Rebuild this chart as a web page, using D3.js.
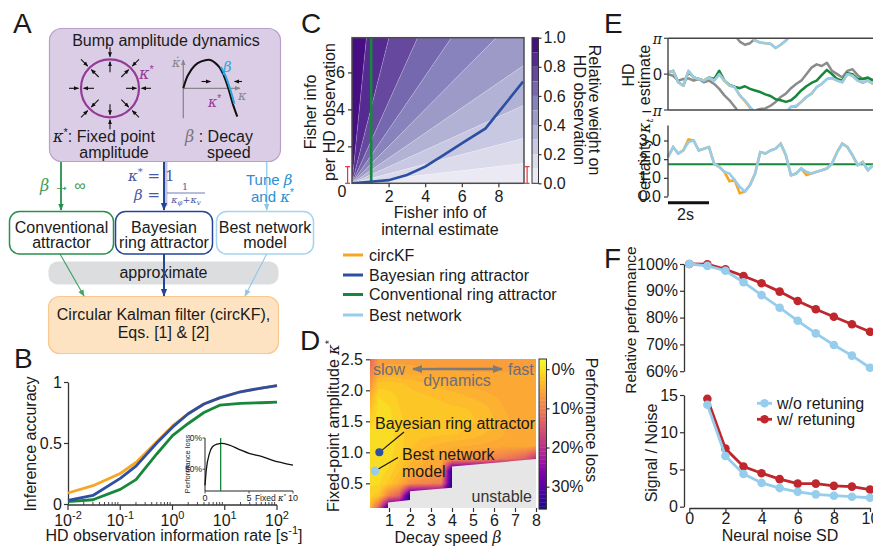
<!DOCTYPE html>
<html>
<head>
<meta charset="utf-8">
<script src="https://cdn.jsdelivr.net/npm/d3@7"></script>
<style>
  body { margin: 0; background: #fff; }
  svg { display: block; font-family: "Liberation Sans", Arial, Helvetica, sans-serif; font-size: 16px; fill: #1a1a1a; }
  .m { font-family: "DejaVu Serif", "Liberation Serif", serif; font-style: italic; }
  .sr { font-family: "DejaVu Serif", "Liberation Serif", serif; }
</style>
</head>
<body>
<svg id="fig" width="873" height="546"></svg>
<script>
// ---------------- DATA ----------------
// B: inference accuracy vs HD observation information rate
const rates     = [0.01, 0.03, 0.1, 0.2, 0.5, 1, 2, 4, 8, 20, 50, 100];
const accCircKF = [0.09, 0.15, 0.25, 0.34, 0.51, 0.64, 0.74, 0.82, 0.87, 0.92, 0.95, 0.97];
const accBayes  = [0.03, 0.07, 0.21, 0.31, 0.50, 0.63, 0.74, 0.82, 0.87, 0.92, 0.95, 0.97];
const accConv   = [0.02, 0.035, 0.12, 0.20, 0.41, 0.56, 0.66, 0.75, 0.81, 0.825, 0.83, 0.835];
// B inset: performance loss vs fixed kappa*
const fixedKappa = [0, 0.15, 0.5, 0.85, 1.4, 1.9, 2.7, 4, 5, 6.5, 7.6, 10];
const lossFixed  = [76, 51, 25, 14, 9.7, 8.6, 11, 19, 24.7, 30, 35.5, 43.5];
const convKappaStar = 1.78;

// C: relative weight on HD observation
const weightTicks = [0, 0.2, 0.4, 0.6, 0.8, 1.0];
const bandSlopes  = [Infinity, 10, 3.9, 2.2, 1.45, 1.0, 0.68, 0.45, 0.26, 0.115, 0];
const bandWeights = [0.95, 0.85, 0.75, 0.65, 0.55, 0.45, 0.35, 0.25, 0.15, 0.05];
const fisherInternal = [0, 1, 2, 3, 4, 5, 6, 7.3, 8.1, 9.35];
const fisherObsBayes = [0, 0.08, 0.17, 0.45, 0.9, 1.53, 2.16, 2.97, 3.96, 5.5];
const convFisherInternal = 1.05;
const errBarX = [-0.24, 9.57];
const errBarRange = [0, 0.9];

// legend
const legendNames  = ["circKF", "Bayesian ring attractor", "Conventional ring attractor", "Best network"];
const legendColors = ["#f6a623", "#2c4fa3", "#17873b", "#96cdec"];

// D: performance loss (%) over decay speed beta (columns) and fixed point kappa* (rows)
const dBeta  = [0.1, 0.5, 1, 1.5, 2, 2.5, 3, 3.5, 4, 4.5, 5, 5.5, 6, 6.5, 7, 7.5, 8];
const dKappa = [2.5, 2.3, 2.1, 1.9, 1.7, 1.5, 1.3, 1.1, 0.9, 0.7, 0.5, 0.3, 0.1];
const dLoss = [
  [13, 7, 6.5, 6.5, 6.5, 6.5, 6.5, 6.5, 6.5, 6.5, 6.5, 6.5, 6.5, 6.5, 6.5, 6.5, 6.5],
  [10, 5.5, 5, 5.2, 5.4, 5.6, 5.7, 5.8, 5.9, 6, 6, 6, 6, 6, 6, 6, 6],
  [7.5, 2.6, 2.5, 2.8, 3.2, 3.6, 4.0, 4.4, 4.8, 5.1, 5.3, 5.5, 5.6, 5.6, 5.7, 5.7, 5.7],
  [5, 1.0, 1.5, 2.2, 2.6, 2.8, 3.0, 3.2, 3.5, 3.8, 4.2, 4.6, 5.0, 5.3, 5.5, 5.6, 5.6],
  [3, 0.6, 0.8, 2.0, 2.4, 2.5, 2.6, 2.7, 2.8, 2.9, 3.1, 3.6, 4.3, 5.0, 5.3, 5.5, 5.6],
  [1.5, 0.3, 0.6, 1.8, 2.3, 2.4, 2.5, 2.6, 2.6, 2.7, 2.9, 3.2, 3.9, 4.8, 5.2, 5.5, 5.6],
  [0.8, 0.1, 0.4, 1.6, 2.4, 2.6, 2.7, 2.8, 2.9, 3.1, 3.4, 3.9, 4.5, 5.0, 5.3, 5.5, 5.6],
  [0.6, 0.0, 0.4, 1.5, 2.8, 3.5, 4.0, 4.4, 4.7, 4.9, 5.1, 5.3, 5.4, 5.5, 5.6, 5.7, 5.8],
  [0.5, 0.1, 0.6, 2.0, 3.6, 4.6, 5.1, 5.4, 7, 7.5, 8, 8.5, 9.5, 10.5, 12, 14, 20],
  [0.6, 0.3, 1.2, 3.0, 4.6, 5.3, 5.8, 6.5, 36, 36, 36, 36, 36, 36, 36, 36, 36],
  [0.8, 0.8, 2.4, 4.6, 8, 9, 9.5, 10.5, 36, 36, 36, 36, 36, 36, 36, 36, 36],
  [1.5, 2.5, 10, 14, 36, 36, 36, 36, 36, 36, 36, 36, 36, 36, 36, 36, 36],
  [4, 14, 36, 36, 36, 36, 36, 36, 36, 36, 36, 36, 36, 36, 36, 36, 36]
];
const lossBands = d3.range(0, 37, 1);
const lossTicks = [0, 10, 20, 30];
const unstableBeta  = [0.95, 0.95, 2, 2, 4, 4, 8, 8];
const unstableKappa = [0.1, 0.19, 0.23, 0.37, 0.43, 0.77, 0.89, 0.1];
const bayesPoint = [0.54, 1.0];
const bestPoint  = [0.33, 0.7];

// E: example traces (time in s)
const tE = [0,0.25,0.5,0.75,1,1.25,1.5,1.75,2,2.25,2.5,2.75,3,3.25,3.5,3.75,4,4.25,4.5,4.75,5,
            5.25,5.5,5.75,6,6.25,6.5,6.75,7,7.25,7.5,7.75,8,8.25,8.5,8.75,9,9.25,9.5,9.75,10];
const hdTrue = [0,-0.14,-0.57,-0.43,-0.37,-0.57,-0.43,-0.71,-0.57,-0.86,-1.29,-1.86,-2.29,-2.86,-3.43,-3.71,-3.57,-3.17,-3.06,-3.0,-2.77,
                -2.43,-2.0,-1.71,-1.23,-0.86,-0.57,0,0.57,0.86,0.71,1.0,0.29,0,-0.29,0.29,0.43,-0.09,-0.43,-0.37,-0.49];
const hdConv = [0.14,0.29,-0.71,-1.0,0.2,-0.29,-0.43,-0.57,-0.29,-0.43,0.3,-0.57,-0.95,-1.1,-1.23,-1.06,-1.29,-1.43,-1.57,-1.77,-1.91,
                -2.2,-2.29,-2.43,-2.29,-1.91,-1.43,-1.06,-0.77,-0.57,-0.09,0.37,0,-0.43,-0.57,0.09,0,-0.43,-0.43,-0.29,-0.57];
const hdKF   = [0.14,0.29,-0.71,-1.0,0.29,-0.29,-0.43,-0.57,-0.29,-0.57,0,-0.57,-1.0,-1.14,-1.86,-2.36,-2.95,-3.34,-3.51,-3.57,-3.62,
                -3.99,-3.71,-3.34,-2.86,-2.85,-2.43,-2.0,-1.71,-1.14,-0.86,-0.43,-0.34,-0.57,-0.71,0,-0.14,-0.57,-0.76,-0.57,-0.86];
const hdBest = [0.14,0.29,-0.71,-1.0,0.29,-0.29,-0.43,-0.57,-0.29,-0.57,0,-0.57,-1.0,-1.14,-1.86,-2.29,-2.86,-3.34,-3.51,-3.57,-3.62,
                -3.99,-3.71,-3.34,-2.86,-2.77,-2.43,-2.0,-1.71,-1.14,-0.86,-0.43,-0.34,-0.57,-0.71,0,-0.14,-0.57,-0.71,-0.57,-0.86];
const certKF   = [2.12,2.65,2.3,2.47,3.05,3.0,2.47,2.56,2.65,1.76,1.59,1.32,0.82,0.88,0.18,0.26,0.61,1.23,2.38,2.3,2.47,
                  2.56,2.83,2.21,1.14,1.23,1.5,1.15,1.23,1.32,1.41,1.5,1.76,2.38,2.83,2.65,2.21,1.68,1.85,1.41,1.68];
const certBest = [2.12,2.65,2.3,2.47,2.92,3.0,2.47,2.56,2.65,1.76,1.59,1.32,1.23,0.88,0.52,0.26,0.61,1.23,2.38,2.3,2.47,
                  2.56,2.83,2.21,1.14,1.23,1.5,1.32,1.23,1.32,1.41,1.5,1.76,2.38,2.83,2.65,2.21,1.68,1.85,1.41,1.68];
const certConv = 1.73;

// F: performance and signal/noise vs neural noise
const noiseSD      = [0, 1, 2, 3, 4, 5, 6, 7, 8, 9, 10];
const perfNoRetune = [100, 99.3, 97.5, 93.2, 88.4, 83.7, 78.8, 74.1, 69.8, 65.8, 61.3];
const perfRetune   = [100, 99.9, 98.0, 95.5, 92.8, 89.7, 86.2, 83.1, 80.3, 77.5, 74.7];
const snrSD        = [1, 2, 3, 4, 5, 6, 7, 8, 9, 10];
const snrNoRetune  = [13.7, 6.8, 4.4, 3.2, 2.5, 2.0, 1.66, 1.48, 1.34, 1.2];
const snrRetune    = [14.5, 7.8, 5.4, 4.5, 3.7, 3.1, 3.1, 2.8, 2.7, 2.3];

// A: sketch of bump amplitude dynamics (kappa, d kappa / dt)
const ampKappa = [0, 0.1, 0.25, 0.4, 0.6, 0.8, 0.9, 1.0, 1.1, 1.2];
const ampRate  = [0, 0.45, 0.8, 0.95, 1.0, 0.75, 0.45, 0, -0.55, -1.0];

const COL = { kf: "#f6a623", bayes: "#2c4fa3", conv: "#17873b", best: "#96cdec", gray: "#8c8c8c", red: "#c0272d", purple: "#943a97" };

// ---------------- HELPERS ----------------
const svg = d3.select("#fig");
const defs = svg.append("defs");
const SANS = '"Liberation Sans", Arial, Helvetica, sans-serif';

function addMarker(id, color, size) {
  defs.append("marker").attr("id", id)
    .attr("viewBox", "0 0 10 10").attr("refX", 9).attr("refY", 5)
    .attr("markerWidth", size).attr("markerHeight", size)
    .attr("markerUnits", "userSpaceOnUse").attr("orient", "auto-start-reverse")
    .append("path").attr("d", "M0,1L10,5L0,9Z").attr("fill", color);
}
addMarker("arBlack", "#111", 5);
addMarker("arGray", "#888", 6);
addMarker("arGreen", "#27904c", 7);
addMarker("arBlue", "#22449b", 8);
addMarker("arLight", "#8cc7ea", 7);
addMarker("arDyn", "#7b7b7b", 10);

function txt(g, x, y, s, o = {}) {
  const t = g.append("text").attr("x", x).attr("y", y)
    .attr("text-anchor", o.anchor || "start")
    .attr("font-size", o.size || 16)
    .attr("fill", o.color || "#1a1a1a");
  if (s !== null) t.text(s);
  if (o.rot) t.attr("transform", `rotate(${o.rot},${x},${y})`);
  if (o.cls) t.attr("class", o.cls);
  return t;
}
function ts(t, s, o = {}) {
  const sp = t.append("tspan").text(s);
  if (o.math) sp.attr("class", "m");
  if (o.dy) sp.attr("dy", o.dy);
  if (o.size) sp.attr("font-size", o.size);
  if (o.color) sp.attr("fill", o.color);
  return sp;
}
function seg(g, x1, y1, x2, y2, color, w, mk) {
  const l = g.append("line").attr("x1", x1).attr("y1", y1).attr("x2", x2).attr("y2", y2)
    .attr("stroke", color).attr("stroke-width", w);
  if (mk) l.attr("marker-end", `url(#${mk})`);
  return l;
}
function styleAxis(g, size = 16) {
  g.attr("font-family", SANS).attr("font-size", size);
  g.select(".domain").attr("stroke", "#333").attr("stroke-width", 1.3);
  g.selectAll(".tick line").attr("stroke", "#333").attr("stroke-width", 1.2);
  g.selectAll(".tick text").attr("fill", "#1a1a1a");
}

// ---------------- PANEL LETTERS ----------------
[["A", 13, 33], ["B", 14, 368], ["C", 301, 33], ["D", 300, 350], ["E", 604, 33], ["F", 604, 268]]
  .forEach(([s, x, y]) => txt(svg, x, y, s, { size: 28 }));

// ---------------- PANEL A ----------------
const gA = svg.append("g");
gA.append("rect").attr("x", 49.5).attr("y", 28.5).attr("width", 231).attr("height", 133).attr("rx", 12)
  .attr("fill", "#dccde6").attr("stroke", "#b99fcc").attr("stroke-width", 1.2);
txt(gA, 166, 46, "Bump amplitude dynamics", { anchor: "middle" });

const ring = { x: 110, y: 88.3, r: 29 };
gA.append("circle").attr("cx", ring.x).attr("cy", ring.y).attr("r", ring.r)
  .attr("fill", "none").attr("stroke", COL.purple).attr("stroke-width", 2.2);
d3.range(8).forEach(k => {
  const a = k * Math.PI / 4, c = Math.cos(a), s = Math.sin(a);
  seg(gA, ring.x + 41 * c, ring.y + 41 * s, ring.x + 31.5 * c, ring.y + 31.5 * s, "#111", 1.1, "arBlack");
  seg(gA, ring.x + 16 * c, ring.y + 16 * s, ring.x + 26.5 * c, ring.y + 26.5 * s, "#111", 1.1, "arBlack");
});
let t = txt(gA, 139, 79, null, { color: COL.purple });
ts(t, "κ", { math: 1 }); ts(t, "*", { dy: -6, size: 11 });

// mini phase plot
const xAmp = d3.scaleLinear().domain([0, 1.2]).range([183.3, 237.3]);
const yAmp = d3.scaleLinear().domain([0, 1]).range([88.3, 60]);
seg(gA, 183.3, 118.3, 183.3, 60, "#888", 1.3, "arGray");
seg(gA, 183.3, 88.3, 240, 88.3, "#888", 1.3, "arGray");
const ampPts = ampKappa.map((k, i) => [k, ampRate[i]]);
const ampLine = d3.line().x(d => xAmp(d[0])).y(d => yAmp(d[1])).curve(d3.curveCatmullRom);
gA.append("path").attr("d", ampLine(ampPts)).attr("fill", "none").attr("stroke", "#111").attr("stroke-width", 2);
gA.append("path").attr("d", ampLine(ampPts.slice(5, 9))).attr("fill", "none").attr("stroke", "#2aa7df")
  .attr("stroke-width", 2).attr("transform", "translate(1.6,0)");
seg(gA, 201.5, 81.5, 210.5, 81.5, "#111", 1.1, "arBlack");
seg(gA, 242, 81.5, 234.5, 81.5, "#111", 1.1, "arBlack");
txt(gA, 172, 67, "κ̇", { size: 13, color: "#888", cls: "m" });
txt(gA, 238, 100, "κ", { size: 13, color: "#888", cls: "m" });
txt(gA, 223, 72, "β", { size: 15, color: "#2aa7df", cls: "m" });
t = txt(gA, 208, 107, null, { color: COL.purple, size: 14 });
ts(t, "κ", { math: 1 }); ts(t, "*", { dy: -5, size: 10 });

t = txt(gA, 53, 142, null);
ts(t, "κ", { math: 1 }); ts(t, "*", { dy: -6, size: 11 }); ts(t, ": Fixed point", { dy: 6 });
txt(gA, 114, 157.5, "amplitude", { anchor: "middle" });
t = txt(gA, 185, 142, null);
ts(t, "β", { math: 1, color: "#777" }); ts(t, " : Decay");
txt(gA, 207, 157.5, "speed");

// connectors from the box
seg(gA, 61, 162, 61, 210, "#27904c", 1.8, "arGreen");
gA.append("rect").attr("x", 164.5).attr("y", 162).attr("width", 3).attr("height", 44).attr("fill", "#c9c3e3");
seg(gA, 164, 162, 164, 210, "#22449b", 2, "arBlue");
seg(gA, 266.7, 162, 266.7, 210, "#9dcfee", 1.5, "arLight");

t = txt(gA, 40, 191, null, { color: "#3e9a5a" });
ts(t, "β", { math: 1 }); ts(t, " → ∞");
t = txt(gA, 128, 181, null, { color: "#4a58a6", cls: "sr", size: 15 });
ts(t, "κ", { math: 1 }); ts(t, "*", { dy: -6, size: 10 }); ts(t, " = 1", { dy: 6 });
t = txt(gA, 134, 199.5, null, { color: "#4a58a6", cls: "sr", size: 15 });
ts(t, "β", { math: 1 }); ts(t, " =");
txt(gA, 185, 189.5, "1", { anchor: "middle", size: 9.5, color: "#4a58a6", cls: "sr" });
seg(gA, 167, 193, 205, 193, "#4a58a6", 0.8);
t = txt(gA, 186, 203, null, { anchor: "middle", size: 9.5, color: "#4a58a6", cls: "sr" });
ts(t, "κ", { math: 1 }); ts(t, "φ", { math: 1, size: 7, dy: 2 }); ts(t, "+", { dy: -2 });
ts(t, "κ", { math: 1 }); ts(t, "v", { math: 1, size: 7, dy: 2 });
t = txt(gA, 246, 184.5, null, { color: "#2c8fd4", size: 15 });
ts(t, "Tune "); ts(t, "β", { math: 1 });
t = txt(gA, 251, 202, null, { color: "#2c8fd4", size: 15 });
ts(t, "and "); ts(t, "κ", { math: 1 }); ts(t, "*", { dy: -6, size: 10 });

// model boxes
const boxes = [
  { x: 9.5, w: 104, stroke: "#27904c", lines: ["Conventional", "attractor"] },
  { x: 115.5, w: 97, stroke: "#22449b", lines: ["Bayesian", "ring attractor"] },
  { x: 216.5, w: 97, stroke: "#a5d4f0", lines: ["Best network", "model"] }
];
boxes.forEach(b => {
  gA.append("rect").attr("x", b.x).attr("y", 211.5).attr("width", b.w).attr("height", 42.5).attr("rx", 10)
    .attr("fill", "#fff").attr("stroke", b.stroke).attr("stroke-width", 1.5);
  txt(gA, b.x + b.w / 2, 232.5, b.lines[0], { anchor: "middle" });
  txt(gA, b.x + b.w / 2, 248, b.lines[1], { anchor: "middle" });
});
gA.append("rect").attr("x", 48.5).attr("y", 261.5).attr("width", 230).attr("height", 23).attr("rx", 9).attr("fill", "#dcdddf");
txt(gA, 163.5, 278, "approximate", { anchor: "middle" });
gA.append("rect").attr("x", 48.5).attr("y", 296.5).attr("width", 230).attr("height", 57).attr("rx", 11)
  .attr("fill", "#fde3c2").attr("stroke", "#f8c98e").attr("stroke-width", 1.2);
seg(gA, 60, 254, 84, 296, "#27904c", 1.1, "arGreen").attr("opacity", 0.85);
seg(gA, 164, 254, 164, 296, "#22449b", 2, "arBlue");
seg(gA, 266.7, 254, 245, 296, "#8cc7ea", 1.1, "arLight");
txt(gA, 163.5, 320, "Circular Kalman filter (circKF),", { anchor: "middle" });
txt(gA, 163.5, 338, "Eqs. [1] & [2]", { anchor: "middle" });

// ---------------- PANEL B ----------------
const gB = svg.append("g");
const xB = d3.scaleLog().domain([0.01, 100]).range([68, 277]);
const yB = d3.scaleLinear().domain([0, 1]).range([504, 382]);
const axB = gB.append("g").attr("transform", "translate(68,0)")
  .call(d3.axisLeft(yB).tickValues([0, 0.5, 1]).tickFormat(d3.format("")).tickSize(4).tickPadding(2).tickSizeOuter(0));
styleAxis(axB);
const bx = gB.append("g");
seg(bx, 68, 505, 277, 505, "#333", 1.3);
const decades = [0.01, 0.1, 1, 10, 100];
decades.forEach(d => {
  seg(bx, xB(d), 505, xB(d), 510, "#333", 1.2);
  const e = Math.round(Math.log10(d));
  const tt = txt(bx, xB(d), 525.5, null, { anchor: "middle" });
  ts(tt, "10"); ts(tt, String(e), { dy: -7, size: 11 });
});
decades.slice(0, 4).forEach(d => d3.range(2, 10).forEach(m => seg(bx, xB(d * m), 502, xB(d * m), 505, "#333", 0.9)));
const lineB = vals => d3.line().x((d, i) => xB(rates[i])).y(d => yB(d))(vals);
[[accConv, COL.conv], [accCircKF, COL.kf], [accBayes, COL.bayes]].forEach(([v, c]) =>
  gB.append("path").attr("d", lineB(v)).attr("fill", "none").attr("stroke", c).attr("stroke-width", 2.8).attr("stroke-linejoin", "round"));
txt(gB, 36, 444, "Inference accuracy", { anchor: "middle", rot: -90 });
t = txt(gB, 174, 541, null, { anchor: "middle" });
ts(t, "HD observation information rate [s"); ts(t, "-1", { dy: -7, size: 11 }); ts(t, "]", { dy: 7 });

// inset
const xIn = d3.scaleLinear().domain([0, 10]).range([205, 293]);
const yIn = d3.scaleLinear().domain([0, 85]).range([438, 491]);
seg(gB, 205, 438, 205, 491, "#222", 1);
seg(gB, 205, 491, 293, 491, "#222", 1);
[0, 50].forEach(v => {
  seg(gB, 202.5, yIn(v), 205, yIn(v), "#222", 0.8);
  txt(gB, 202, yIn(v) + 3, v + "%", { anchor: "end", size: 8.5 });
});
[0, 5, 10].forEach(v => {
  seg(gB, xIn(v), 491, xIn(v), 493.5, "#222", 0.8);
  txt(gB, xIn(v), 501, String(v), { anchor: "middle", size: 9 });
});
t = txt(gB, 286, 501, null, { anchor: "end", size: 8.5 });
ts(t, "Fixed "); ts(t, "κ", { math: 1 }); ts(t, "*", { dy: -3, size: 6 });
txt(gB, 190, 464, "Performance loss", { anchor: "middle", size: 7.5, rot: -90 });
seg(gB, xIn(convKappaStar), 438, xIn(convKappaStar), 491, COL.conv, 1.3);
gB.append("path").attr("d", d3.line().x((d, i) => xIn(fixedKappa[i])).y(d => yIn(d)).curve(d3.curveMonotoneX)(lossFixed))
  .attr("fill", "none").attr("stroke", "#111").attr("stroke-width", 1.3);

// ---------------- PANEL C ----------------
const gC = svg.append("g");
const xC = d3.scaleLinear().domain([0, 9.4]).range([352, 524]);
const yC = d3.scaleLinear().domain([0, 7.88]).range([183.3, 37.7]);
const colC = w => d3.interpolatePurples(0.1 + 0.9 * w);
defs.append("clipPath").attr("id", "clipC").append("rect")
  .attr("x", xC(0)).attr("y", yC(7.88)).attr("width", xC(9.4) - xC(0)).attr("height", yC(0) - yC(7.88));
const rayPt = (s, R) => s === Infinity ? [0, R] : [R / Math.hypot(1, s), R * s / Math.hypot(1, s)];
const gBands = gC.append("g").attr("clip-path", "url(#clipC)");
bandWeights.forEach((w, i) => {
  const p1 = rayPt(bandSlopes[i], 1000), p2 = rayPt(bandSlopes[i + 1], 1000);
  const pts = [[0, 0], p1, p2].map(p => [xC(p[0]), yC(p[1])]);
  gBands.append("path").attr("d", "M" + pts.join("L") + "Z").attr("fill", colC(w));
});
bandSlopes.slice(1, -1).forEach(s => {
  const p = rayPt(s, 1000);
  gBands.append("line").attr("x1", xC(0)).attr("y1", yC(0)).attr("x2", xC(p[0])).attr("y2", yC(p[1]))
    .attr("stroke", "#fff").attr("stroke-opacity", 0.35).attr("stroke-width", 0.6);
});
seg(gBands, xC(convFisherInternal), yC(0), xC(convFisherInternal), yC(7.88), COL.conv, 2.6);
gBands.append("path").attr("d", d3.line().x((d, i) => xC(fisherInternal[i])).y(d => yC(d))(fisherObsBayes))
  .attr("fill", "none").attr("stroke", COL.bayes).attr("stroke-width", 2.6);
gC.append("rect").attr("x", xC(0)).attr("y", yC(7.88)).attr("width", xC(9.4) - xC(0)).attr("height", yC(0) - yC(7.88))
  .attr("fill", "none").attr("stroke", "#4d4d4d").attr("stroke-width", 1.5);
errBarX.forEach(x => {
  seg(gC, xC(x), yC(errBarRange[0]), xC(x), yC(errBarRange[1]), "#e8333a", 1.2);
  errBarRange.forEach(v => seg(gC, xC(x) - 2.5, yC(v), xC(x) + 2.5, yC(v), "#e8333a", 1.2));
});
const axCx = gC.append("g").attr("transform", `translate(0,${yC(0)})`)
  .call(d3.axisBottom(xC).tickValues([2, 4, 6, 8]).tickSize(4).tickPadding(3).tickSizeOuter(0));
styleAxis(axCx); axCx.select(".domain").remove();
const axCy = gC.append("g").attr("transform", `translate(${xC(0)},0)`)
  .call(d3.axisLeft(yC).tickValues([2, 4, 6]).tickSize(4).tickPadding(3).tickSizeOuter(0));
styleAxis(axCy); axCy.select(".domain").remove();
txt(gC, 342, 197, "0", { anchor: "middle" });
txt(gC, 316, 112, "Fisher info", { anchor: "middle", rot: -90 });
txt(gC, 335, 112, "per HD observation", { anchor: "middle", rot: -90 });
txt(gC, 440, 218, "Fisher info of", { anchor: "middle" });
txt(gC, 440, 234.5, "internal estimate", { anchor: "middle" });
// colorbar
const cbC = d3.scaleLinear().domain([0, 1]).range([183.3, 37.7]);
bandWeights.forEach(w => gC.append("rect").attr("x", 532).attr("y", cbC(w + 0.05)).attr("width", 6.5)
  .attr("height", cbC(w - 0.05) - cbC(w + 0.05)).attr("fill", colC(w)));
gC.append("rect").attr("x", 532).attr("y", 37.7).attr("width", 6.5).attr("height", 145.6)
  .attr("fill", "none").attr("stroke", "#333").attr("stroke-width", 1);
const axCb = gC.append("g").attr("transform", "translate(538.5,0)")
  .call(d3.axisRight(cbC).tickValues(weightTicks).tickFormat(d3.format(".1f")).tickSize(3).tickPadding(2).tickSizeOuter(0));
styleAxis(axCb); axCb.select(".domain").remove();
txt(gC, 589, 110, "Relative weight on", { anchor: "middle", rot: 90 });
txt(gC, 574, 110, "HD observation", { anchor: "middle", rot: 90 });

// legend
legendNames.forEach((n, i) => {
  const y = [255, 275, 294.5, 315][i];
  seg(gC, 343, y, 363, y, legendColors[i], 3);
  txt(gC, 369, y + 5.5, n);
});

// ---------------- PANEL D ----------------
const gD = svg.append("g");
const xD = d3.scaleLinear().domain([0, 8]).range([368, 536]);
const yD = d3.scaleLinear().domain([0.5, 2.5]).range([483.3, 359.3]);
const colD = v => d3.interpolatePlasma(Math.max(0, Math.min(1, 1 - (v + 2.6) / 38.3)));
const dX0 = Math.round(xD(0.1)), dX1 = Math.round(xD(8)), dY0 = Math.round(yD(2.5)), dY1 = Math.round(yD(0.1));
const nxD = dBeta.length, nyD = dKappa.length;
const iToBeta = d3.scaleLinear().domain(d3.range(nxD)).range(dBeta);
const jToKappa = d3.scaleLinear().domain(d3.range(nyD)).range(dKappa);
// raster of the loss grid, banded in 1% steps like a filled contour plot
const cw = dX1 - dX0, ch = dY1 - dY0;
const canvas = document.createElement("canvas");
canvas.width = cw; canvas.height = ch;
const ctx = canvas.getContext("2d");
const img = ctx.createImageData(cw, ch);
const bandRGB = lossBands.map(v => d3.rgb(colD(v)));
for (let py = 0; py < ch; py++) {
  const fj = Math.max(0, Math.min(nyD - 1, jToKappa.invert(yD.invert(dY0 + py + 0.5))));
  const j0 = Math.min(nyD - 2, Math.floor(fj)), wy = fj - j0;
  for (let px = 0; px < cw; px++) {
    const fi = Math.max(0, Math.min(nxD - 1, iToBeta.invert(xD.invert(dX0 + px + 0.5))));
    const i0 = Math.min(nxD - 2, Math.floor(fi)), wx = fi - i0;
    const v = (1 - wy) * ((1 - wx) * dLoss[j0][i0] + wx * dLoss[j0][i0 + 1])
            + wy * ((1 - wx) * dLoss[j0 + 1][i0] + wx * dLoss[j0 + 1][i0 + 1]);
    const c = bandRGB[Math.max(0, Math.min(lossBands.length - 1, Math.floor(v)))];
    const k = 4 * (py * cw + px);
    img.data[k] = c.r; img.data[k + 1] = c.g; img.data[k + 2] = c.b; img.data[k + 3] = 255;
  }
}
ctx.putImageData(img, 0, 0);
gD.append("image").attr("x", dX0).attr("y", dY0).attr("width", cw).attr("height", ch)
  .attr("preserveAspectRatio", "none").attr("href", canvas.toDataURL());
defs.append("clipPath").attr("id", "clipD").append("rect")
  .attr("x", dX0).attr("y", dY0).attr("width", cw).attr("height", ch);
gD.append("path").attr("clip-path", "url(#clipD)")
  .attr("d", d3.line().x((d, i) => xD(unstableBeta[i])).y(d => yD(d))(unstableKappa) + "Z")
  .attr("fill", "#e6e6e6");
const axDy = gD.append("g").attr("transform", `translate(${dX0},0)`)
  .call(d3.axisLeft(yD).tickValues([0.5, 1, 1.5, 2, 2.5]).tickFormat(d3.format(".1f")).tickSize(4).tickPadding(3));
styleAxis(axDy); axDy.select(".domain").remove();
const axDx = gD.append("g").attr("transform", `translate(0,${dY1})`)
  .call(d3.axisBottom(xD).tickValues([1, 2, 3, 4, 5, 6, 7, 8]).tickSize(4).tickPadding(3));
styleAxis(axDx); axDx.select(".domain").remove();
// annotations
txt(gD, 373, 374.5, "slow", { color: "#6d6e78" });
txt(gD, 508, 374.5, "fast", { color: "#6d6e78" });
gD.append("line").attr("x1", 413).attr("y1", 369).attr("x2", 502).attr("y2", 369)
  .attr("stroke", "#7b7b7b").attr("stroke-width", 2.4)
  .attr("marker-start", "url(#arDyn)").attr("marker-end", "url(#arDyn)");
txt(gD, 457, 385.5, "dynamics", { anchor: "middle", color: "#6d6e78" });
txt(gD, 375, 428.5, "Bayesian ring attractor");
txt(gD, 402, 460, "Best network");
txt(gD, 402, 476.5, "model");
txt(gD, 471.5, 501.5, "unstable", { color: "#333" });
seg(gD, xD(bayesPoint[0]), yD(bayesPoint[1]), 404, 432, "#111", 1.1);
seg(gD, xD(bestPoint[0]), yD(bestPoint[1]), 398, 457.5, "#111", 1.1);
gD.append("circle").attr("cx", xD(bayesPoint[0])).attr("cy", yD(bayesPoint[1])).attr("r", 4).attr("fill", COL.bayes);
gD.append("circle").attr("cx", xD(bestPoint[0])).attr("cy", yD(bestPoint[1])).attr("r", 4.3).attr("fill", COL.best);
t = txt(gD, 339, 426, null, { anchor: "middle", rot: -90 });
ts(t, "Fixed-point amplitude "); ts(t, "κ", { math: 1 }); ts(t, "*", { dy: -6, size: 11 });
t = txt(gD, 448, 543, null, { anchor: "middle" });
ts(t, "Decay speed "); ts(t, "β", { math: 1 });
// colorbar
const cbD = d3.scaleLinear().domain([-2.6, 35.7]).range([359, 509]);
d3.range(-3, 36).forEach(v => {
  const y0 = Math.max(359, cbD(v)), y1 = Math.min(509, cbD(v + 1));
  if (y1 > y0) gD.append("rect").attr("x", 539).attr("y", y0).attr("width", 7.5).attr("height", y1 - y0 + 0.3).attr("fill", colD(v));
});
gD.append("rect").attr("x", 539).attr("y", 359).attr("width", 7.5).attr("height", 150)
  .attr("fill", "none").attr("stroke", "#333").attr("stroke-width", 1);
const axDb = gD.append("g").attr("transform", "translate(546.5,0)")
  .call(d3.axisRight(cbD).tickValues(lossTicks).tickFormat(d => d + "%").tickSize(3).tickPadding(2));
styleAxis(axDb); axDb.select(".domain").remove();
txt(gD, 586, 420, "Performance loss", { anchor: "middle", rot: 90 });

// ---------------- PANEL E ----------------
const gE = svg.append("g");
const xE = d3.scaleLinear().domain([0, 10]).range([668, 873]);
const yE = d3.scaleLinear().domain([-Math.PI, Math.PI]).range([110, 38.3]);
const yE2 = d3.scaleLinear().domain([0, 3]).range([196.5, 140.5]);
defs.append("clipPath").attr("id", "clipE").append("rect").attr("x", 668).attr("y", 38.3).attr("width", 205).attr("height", 71.7);
function wrapSegments(tt, vs) {
  const P = Math.PI, out = [];
  let cur = [];
  const wrap = v => ((v + P) % (2 * P) + 2 * P) % (2 * P) - P;
  for (let i = 0; i < tt.length; i++) {
    if (i > 0) {
      const k0 = Math.floor((vs[i - 1] + P) / (2 * P)), k1 = Math.floor((vs[i] + P) / (2 * P));
      if (k0 !== k1) {
        const b = Math.max(k0, k1) * 2 * P - P;
        const f = (b - vs[i - 1]) / (vs[i] - vs[i - 1]);
        const tc = tt[i - 1] + f * (tt[i] - tt[i - 1]);
        const edge = k1 > k0 ? P : -P;
        cur.push([tc, edge]); out.push(cur);
        cur = [[tc, -edge]];
      }
    }
    cur.push([tt[i], wrap(vs[i])]);
  }
  out.push(cur);
  return out;
}
const lineE = d3.line().x(d => xE(d[0])).y(d => yE(d[1]));
const gTr = gE.append("g").attr("clip-path", "url(#clipE)");
[[hdTrue, COL.gray], [hdConv, COL.conv], [hdKF, COL.kf], [hdBest, COL.best]].forEach(([v, c]) =>
  wrapSegments(tE, v).forEach(sg => gTr.append("path").attr("d", lineE(sg)).attr("fill", "none")
    .attr("stroke", c).attr("stroke-width", 2.5).attr("stroke-linejoin", "round")));
seg(gE, 668, 38.3, 873, 38.3, "#444", 1.4);
seg(gE, 668, 110, 873, 110, "#444", 1.4);
seg(gE, 668, 38.3, 668, 110, "#444", 1.4);
[[Math.PI, "π"], [0, "0"], [-Math.PI, "−π"]].forEach(([v, s]) => {
  seg(gE, 664, yE(v), 668, yE(v), "#444", 1.2);
  txt(gE, 662, yE(v) + 5.5, s, { anchor: "end", cls: v === 0 ? null : "m", size: v === 0 ? 16 : 14 });
});
txt(gE, 634, 75, "HD", { anchor: "middle", rot: -90 });
txt(gE, 650, 75, "estimate", { anchor: "middle", rot: -90 });

const lineE2 = d3.line().x((d, i) => xE(tE[i])).y(d => yE2(d));
seg(gE, 668, yE2(certConv), 873, yE2(certConv), COL.conv, 2);
gE.append("path").attr("d", lineE2(certKF)).attr("fill", "none").attr("stroke", COL.kf).attr("stroke-width", 2.6);
gE.append("path").attr("d", lineE2(certBest)).attr("fill", "none").attr("stroke", COL.best).attr("stroke-width", 2.6);
const axE2 = gE.append("g").attr("transform", "translate(668,0)")
  .call(d3.axisLeft(yE2).tickValues([0, 1, 2, 3]).tickSize(4).tickPadding(3).tickSizeOuter(0));
styleAxis(axE2);
axE2.select(".domain").attr("d", `M0,${yE2(3.8)}V${yE2(0)}`);
t = txt(gE, 650, 160, null, { anchor: "middle", rot: -90 });
ts(t, "Certainty "); ts(t, "κ", { math: 1 }); ts(t, "t", { math: 1, size: 10, dy: 3 });
seg(gE, xE(0), 202.7, xE(2), 202.7, "#111", 3);
txt(gE, 677, 220, "2s");

// ---------------- PANEL F ----------------
const gF = svg.append("g");
const xF = d3.scaleLinear().domain([0, 10]).range([689.3, 870]);
const yF1 = d3.scaleLinear().domain([60, 100]).range([371.2, 264]);
const yF2 = d3.scaleLinear().domain([0, 15]).range([506.7, 395]);
const axF1 = gF.append("g").attr("transform", "translate(684,0)")
  .call(d3.axisLeft(yF1).tickValues([60, 70, 80, 90, 100]).tickFormat(d => d + "%").tickSize(4).tickPadding(2).tickSizeOuter(0));
styleAxis(axF1);
const axF2 = gF.append("g").attr("transform", "translate(684,0)")
  .call(d3.axisLeft(yF2).tickValues([0, 5, 10, 15]).tickSize(4).tickPadding(2).tickSizeOuter(0));
styleAxis(axF2);
const axFx = gF.append("g").attr("transform", "translate(0,508)")
  .call(d3.axisBottom(xF).tickValues([0, 2, 4, 6, 8, 10]).tickSize(4).tickPadding(1).tickSizeOuter(0));
styleAxis(axFx);
function series(g, xs, ys, yScale, color) {
  g.append("path").attr("d", d3.line().x((d, i) => xF(xs[i])).y(d => yScale(d))(ys))
    .attr("fill", "none").attr("stroke", color).attr("stroke-width", 2.8);
  g.selectAll(null).data(ys).join("circle")
    .attr("cx", (d, i) => xF(xs[i])).attr("cy", d => yScale(d)).attr("r", 4.3).attr("fill", color);
}
series(gF, noiseSD, perfRetune, yF1, COL.red);
series(gF, noiseSD, perfNoRetune, yF1, COL.best);
series(gF, snrSD, snrRetune, yF2, COL.red);
series(gF, snrSD, snrNoRetune, yF2, COL.best);
[["w/o retuning", COL.best, 403.3], ["w/ retuning", COL.red, 419.3]].forEach(([n, c, y]) => {
  seg(gF, 757, y, 772, y, c, 2.8);
  gF.append("circle").attr("cx", 764.5).attr("cy", y).attr("r", 4.3).attr("fill", c);
  txt(gF, 777, y + 5.5, n);
});
txt(gF, 636, 320, "Relative performance", { anchor: "middle", rot: -90, size: 15.5 });
txt(gF, 657, 453, "Signal / Noise", { anchor: "middle", rot: -90 });
txt(gF, 780, 541, "Neural noise SD", { anchor: "middle" });
</script>
</body>
</html>
